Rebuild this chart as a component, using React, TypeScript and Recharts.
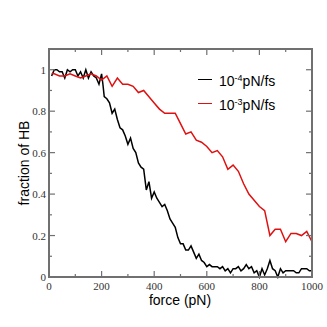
import React from 'react';
import { LineChart, Line, XAxis, YAxis, ReferenceArea } from 'recharts';

// black curve: 10^-4 pN/fs, sampled every 10 pN
const SLOW_FORCE = [
  10, 20, 30, 40, 50, 60, 70, 80, 90, 100, 110, 120, 130, 140, 150, 160, 170, 180, 190, 200,
  205, 210, 220, 230, 240, 250, 260, 270, 280, 290, 300, 310, 320, 330, 340, 350, 360, 370, 380, 390,
  400, 410, 420, 430, 440, 450, 460, 470, 480, 490, 500, 510, 520, 530, 540, 550, 560, 570, 580, 590,
  600, 610, 620, 630, 640, 650, 660, 670, 680, 690, 700, 710, 720, 730, 740, 750, 760, 770, 780, 790,
  800, 810, 820, 830, 840, 850, 860, 870, 880, 890, 900, 910, 920, 930, 940, 950, 960, 970, 980, 990, 1000,
];
const SLOW_HB = [
  0.97, 1.0, 1.0, 0.99, 0.99, 0.96, 1.0, 0.99, 1.0, 1.0, 0.97, 0.99, 0.96, 1.0, 0.96, 0.99, 0.97, 0.96, 0.93, 0.98,
  0.93, 0.87, 0.86, 0.84, 0.79, 0.81, 0.76, 0.72, 0.71, 0.68, 0.64, 0.67, 0.62, 0.6, 0.55, 0.53, 0.52, 0.42, 0.46, 0.38,
  0.41, 0.38, 0.36, 0.34, 0.35, 0.32, 0.28, 0.26, 0.24, 0.19, 0.16, 0.16, 0.13, 0.13, 0.15, 0.12, 0.09, 0.11, 0.08, 0.07,
  0.05, 0.06, 0.05, 0.05, 0.05, 0.04, 0.05, 0.03, 0.04, 0.02, 0.04, 0.04, 0.05, 0.03, 0.04, 0.06, 0.04, 0.05, 0.02, 0.03,
  0.0, 0.04, 0.01, 0.04, 0.08, 0.04, 0.03, 0.0, 0.04, 0.02, 0.03, 0.03, 0.03, 0.03, 0.02, 0.02, 0.04, 0.04, 0.04, 0.03, 0.03,
];

// red curve: 10^-3 pN/fs, sampled every 20 pN
const FAST_FORCE = [
  10, 20, 40, 60, 80, 100, 120, 140, 160, 180, 200, 220, 240, 260, 280, 300, 320, 340, 360, 380,
  400, 420, 440, 460, 480, 500, 520, 540, 560, 580, 600, 620, 640, 660, 680, 700, 720, 740, 760, 780,
  800, 820, 840, 860, 880, 900, 920, 940, 960, 980, 1000,
];
const FAST_HB = [
  0.98, 0.98, 0.97, 0.97, 0.98, 0.97, 0.96, 0.97, 0.98, 0.97, 0.95, 0.97, 0.92, 0.96, 0.93, 0.93, 0.92, 0.89, 0.9, 0.87,
  0.84, 0.81, 0.79, 0.79, 0.79, 0.74, 0.69, 0.7, 0.66, 0.65, 0.63, 0.6, 0.61, 0.58, 0.52, 0.54, 0.51, 0.45, 0.4, 0.37,
  0.34, 0.32, 0.2, 0.23, 0.23, 0.17, 0.21, 0.21, 0.2, 0.22, 0.17,
];

const X_TICKS = [0, 100, 200, 300, 400, 500, 600, 700, 800, 900, 1000];
const Y_TICKS = [0, 0.1, 0.2, 0.3, 0.4, 0.5, 0.6, 0.7, 0.8, 0.9, 1.0];
const SERIES_EXP = ['-4', '-3'];
const SERIES_COLOR = ['#000000', '#e01010'];

const slowData = SLOW_FORCE.map((f, i) => ({ force: f, hb: SLOW_HB[i] }));
const fastData = FAST_FORCE.map((f, i) => ({ force: f, hb: FAST_HB[i] }));

const W = 327;
const H = 327;
const MARGIN = { top: 49, right: 15, bottom: 0, left: 0 };
const Y_AXIS_W = 49;
const X_AXIS_H = 50;
// inner plot size, used to mirror ticks onto the top and right edges
const PLOT_W = W - MARGIN.left - MARGIN.right - Y_AXIS_W;
const PLOT_H = H - MARGIN.top - MARGIN.bottom - X_AXIS_H;

const FRAME = '#707070';
const SERIF = '"Liberation Serif", "Times New Roman", serif';
const SANS = '"Liberation Sans", Arial, sans-serif';

const isMajorX = (v: number) => v % 200 === 0;
const isMajorY = (v: number) => Math.round(v * 10) % 2 === 0;
const fmtY = (v: number) => String(Number(v.toFixed(1)));

const BottomTick = (props: any) => {
  const { x, y, payload } = props;
  const len = isMajorX(payload.value) ? 6 : 3;
  const top = y - PLOT_H;
  return (
    <g>
      <line x1={x} x2={x} y1={y} y2={y - len} stroke={FRAME} strokeWidth={1.2} />
      <line x1={x} x2={x} y1={top} y2={top + len} stroke={FRAME} strokeWidth={1.2} />
      {isMajorX(payload.value) && (
        <text x={x} y={y + 13} textAnchor="middle" fontFamily={SERIF} fontSize={11} fill="#333">
          {payload.value}
        </text>
      )}
    </g>
  );
};

const LeftTick = (props: any) => {
  const { x, y, payload } = props;
  const len = isMajorY(payload.value) ? 6 : 3;
  const right = x + PLOT_W;
  return (
    <g>
      <line x1={x} x2={x + len} y1={y} y2={y} stroke={FRAME} strokeWidth={1.2} />
      <line x1={right} x2={right - len} y1={y} y2={y} stroke={FRAME} strokeWidth={1.2} />
      {isMajorY(payload.value) && (
        <text x={x - 3} y={y + 4} textAnchor="end" fontFamily={SERIF} fontSize={11} fill="#333">
          {fmtY(payload.value)}
        </text>
      )}
    </g>
  );
};

const LegendBox = () => (
  <div style={{ position: 'absolute', left: 198, top: 67, fontFamily: SANS, fontSize: 14, color: '#000' }}>
    {SERIES_EXP.map((exp, i) => (
      <div key={exp} style={{ display: 'flex', alignItems: 'center', height: 24 }}>
        <span style={{ width: 14, height: 0, borderTop: `1.5px solid ${SERIES_COLOR[i]}`, marginRight: 7 }} />
        <span style={{ lineHeight: '14px' }}>
          10<sup style={{ fontSize: 9, verticalAlign: 5 }}>{exp}</sup>pN/fs
        </span>
      </div>
    ))}
  </div>
);

// plain border round the plot area, in case the svg frame edges are lost
const FrameBox = () => (
  <div
    style={{
      position: 'absolute',
      left: MARGIN.left + Y_AXIS_W - 1,
      top: MARGIN.top - 1,
      width: PLOT_W + 2,
      height: PLOT_H + 2,
      boxSizing: 'border-box',
      border: `2px solid ${FRAME}`,
      pointerEvents: 'none',
    }}
  />
);

export default function App() {
  return (
    <div style={{ position: 'absolute', left: 0, top: 0, width: W, height: H, background: '#fff' }}>
      <LineChart width={W} height={H} margin={MARGIN}>
        <XAxis
          dataKey="force"
          type="number"
          domain={[0, 1000]}
          ticks={X_TICKS}
          interval={0}
          height={X_AXIS_H}
          tickSize={0}
          tickMargin={0}
          tickLine={false}
          axisLine={false}
          tick={<BottomTick />}
          label={{
            content: () => (
              <text x={180} y={305} textAnchor="middle" fontFamily={SANS} fontSize={14} fill="#000">
                force (pN)
              </text>
            ),
          }}
        />
        <YAxis
          type="number"
          domain={[0, 1.1]}
          ticks={Y_TICKS}
          interval={0}
          width={Y_AXIS_W}
          tickSize={0}
          tickMargin={0}
          tickLine={false}
          axisLine={false}
          tick={<LeftTick />}
          label={{
            content: () => (
              <text
                x={0}
                y={0}
                transform="translate(29 163) rotate(-90)"
                textAnchor="middle"
                fontFamily={SANS}
                fontSize={14}
                fill="#000"
              >
                fraction of HB
              </text>
            ),
          }}
        />
        <ReferenceArea
          x1={0}
          x2={1000}
          y1={0}
          y2={1.1}
          fill="#ffffff"
          fillOpacity={0}
          stroke={FRAME}
          strokeWidth={2}
          ifOverflow="visible"
        />
        <Line
          data={slowData}
          dataKey="hb"
          stroke={SERIES_COLOR[0]}
          strokeWidth={1.5}
          dot={false}
          isAnimationActive={false}
        />
        <Line
          data={fastData}
          dataKey="hb"
          stroke={SERIES_COLOR[1]}
          strokeWidth={1.5}
          dot={false}
          isAnimationActive={false}
        />
      </LineChart>
      <FrameBox />
      <LegendBox />
    </div>
  );
}
